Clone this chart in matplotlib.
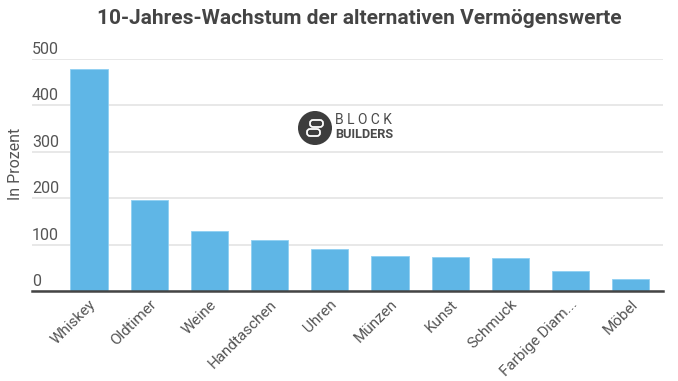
import matplotlib
matplotlib.use('Agg')
import matplotlib.pyplot as plt
from matplotlib.patches import Circle, FancyBboxPatch

# Values
categories = ['Whiskey', 'Oldtimer', 'Weine', 'Handtaschen', 'Uhren',
              'Münzen', 'Kunst', 'Schmuck', 'Farbige Diam...', 'Möbel']
growth = [478, 196, 130, 110, 90, 76, 73, 71, 43, 25]
y_ticks = [0, 100, 200, 300, 400, 500]

W, H = 678, 381
plt.rcParams['font.family'] = ['Roboto', 'DejaVu Sans']

fig = plt.figure(figsize=(W / 100, H / 100), dpi=100)
# axes box in pixels: x 32-663, y 59-291 (top = 500)
ax = fig.add_axes([32 / W, 1 - 291 / H, 631 / W, 232 / H])

ax.bar(range(len(categories)), growth, width=0.62, color='#5fb6e6',
       edgecolor='#8fd0f2', linewidth=0.6, zorder=2)
ax.set_xlim(-0.947, 9.535)
ax.set_ylim(0, 500)

ax.set_yticks(y_ticks)
ax.set_yticklabels([])
ax.tick_params(left=False, bottom=False)
ax.grid(axis='y', color='#e6e6e6', linewidth=1.3, zorder=0)
for side in ['top', 'left', 'right']:
    ax.spines[side].set_visible(False)
ax.spines['bottom'].set_color('#444444')
ax.spines['bottom'].set_linewidth(1.8)
ax.spines['bottom'].set_zorder(3)

# tick labels sit on top of the grid lines, left aligned
for v in y_ticks:
    ax.annotate(str(v), xy=(0, v), xycoords=('axes fraction', 'data'),
                xytext=(0, 2), textcoords='offset pixels', ha='left', va='bottom',
                fontsize=11.5, color='#555555')

ax.set_xticks(range(len(categories)))
ax.set_xticklabels(categories, rotation=45, ha='right', rotation_mode='anchor',
                   fontsize=11, color='#555555')
ax.tick_params(axis='x', pad=1)

fig.text(15 / W, 1 - 164 / H, 'In Prozent', rotation=90, ha='center', va='center',
         fontsize=11.5, color='#555555')
fig.text(359 / W, 1 - 18 / H, '10-Jahres-Wachstum der alternativen Vermögenswerte',
         ha='center', va='center', fontsize=15, fontweight='bold', color='#444444')

# logo
logo = fig.add_axes([0, 0, 1, 1])
logo.set_xlim(0, W)
logo.set_ylim(H, 0)
logo.axis('off')
logo.patch.set_alpha(0)
logo.add_patch(Circle((315, 128), 17, facecolor='#3d3d3d', edgecolor='none'))
logo.add_patch(FancyBboxPatch((310, 120), 13, 7, boxstyle='round,pad=0,rounding_size=3',
                              facecolor='none', edgecolor='white', linewidth=1.3))
logo.add_patch(FancyBboxPatch((307, 129), 13, 7, boxstyle='round,pad=0,rounding_size=3',
                              facecolor='none', edgecolor='white', linewidth=1.3))
logo.text(335, 120.5, 'B L O C K', fontsize=10, color='#4a4a4a', ha='left', va='center')
logo.text(335, 134.5, 'BUILDERS', fontsize=9.2, color='#4a4a4a', ha='left', va='center',
          fontweight='bold')

fig.savefig('out.png', dpi=100)
